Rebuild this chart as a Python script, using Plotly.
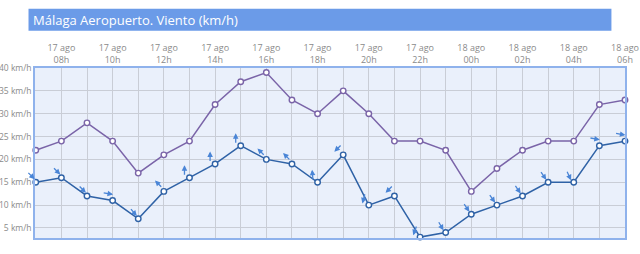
import math
import plotly.graph_objects as go

# ---- data ----
hours = ["07h", "08h", "09h", "10h", "11h", "12h", "13h", "14h", "15h", "16h", "17h", "18h",
         "19h", "20h", "21h", "22h", "23h", "00h", "01h", "02h", "03h", "04h", "05h", "06h"]
days = ["17 ago"] * 17 + ["18 ago"] * 7
gusts = [22, 24, 28, 24, 17, 21, 24, 32, 37, 39, 33, 30, 35, 30, 24, 24, 22, 13, 18, 22, 24, 24, 32, 33]
wind = [15, 16, 12, 11, 7, 13, 16, 19, 23, 20, 19, 15, 21, 10, 12, 3, 4, 8, 10, 12, 15, 15, 23, 24]
# direction the arrow points to (degrees, 0 = up, 90 = right)
arrow_dir = [135, 135, 135, 100, 140, 315, 0, 0, 0, 315, 315, 355, 225, 195, 225, 200,
             150, 145, 145, 145, 145, 155, 100, 100]
y_ticks = [5, 10, 15, 20, 25, 30, 35, 40]
y_labels = ["5 km/h", "10 km/h", "15 km/h", "20 km/h", "25 km/h", "30 km/h", "35 km/h", "40 km/h"]
title = "Málaga Aeropuerto. Viento (km/h)"

x = list(range(len(hours)))
xtext = [f"{d}<br>{h}" if i % 2 == 1 else "" for i, (d, h) in enumerate(zip(days, hours))]

fig = go.Figure()
fig.add_trace(go.Scatter(
    x=x, y=gusts, mode="lines+markers", name="Racha",
    line=dict(color="#7a64a8", width=1.5),
    marker=dict(symbol="circle", size=5.5, color="white", line=dict(color="#7a64a8", width=1.4)),
    cliponaxis=False, hoverinfo="skip"))
fig.add_trace(go.Scatter(
    x=x, y=wind, mode="lines+markers", name="Viento",
    line=dict(color="#2f62a6", width=1.5),
    marker=dict(symbol="circle", size=5.5, color="white", line=dict(color="#2f62a6", width=1.4)),
    cliponaxis=False, hoverinfo="skip"))

ann = []
L = 11
for xi, yi, a in zip(x, wind, arrow_dir):
    dx = math.sin(math.radians(a))
    dy = math.cos(math.radians(a))
    ann.append(dict(
        x=xi, y=yi, xref="x", yref="y", text="", showarrow=True,
        arrowhead=2, arrowsize=0.85, arrowwidth=1.3, arrowcolor="#4a85d6",
        ax=-L * dx, ay=L * dy,
        xshift=-5 + (L / 2) * dx, yshift=7 + (L / 2) * dy))

ann.append(dict(x=0, y=1.284, xref="paper", yref="paper", xanchor="left", yanchor="middle",
                text=title, showarrow=False, xshift=-4,
                font=dict(family="Open Sans", size=13, color="white")))

fig.update_layout(
    width=640, height=254,
    margin=dict(l=35, r=15, t=68, b=16),
    paper_bgcolor="white", plot_bgcolor="#eaf0fb",
    showlegend=False,
    annotations=ann,
    shapes=[dict(type="rect", xref="paper", yref="paper", x0=-0.011, x1=0.977,
                 y0=1.219, y1=1.349, fillcolor="#6b9be8", line=dict(width=0), layer="below")],
    font=dict(family="Open Sans", size=9, color="#8a8a8a"),
)

fig.update_xaxes(
    range=[-0.03, 23.0], side="top", tickvals=x, ticktext=xtext, automargin=False,
    showgrid=True, gridcolor="#c9cdd6", gridwidth=1, ticks="", zeroline=False,
    showline=True, linecolor="#8fb2ec", linewidth=1.5, mirror=True,
    tickfont=dict(size=9, color="#8a8a8a"))
fig.update_yaxes(
    range=[2.8, 40], tickvals=y_ticks, ticktext=y_labels, automargin=False,
    showgrid=True, gridcolor="#c9cdd6", gridwidth=1, ticks="", zeroline=False,
    showline=True, linecolor="#8fb2ec", linewidth=1.5, mirror=True,
    tickfont=dict(size=8.5, color="#8a8a8a"))

fig.write_html("out.html")
